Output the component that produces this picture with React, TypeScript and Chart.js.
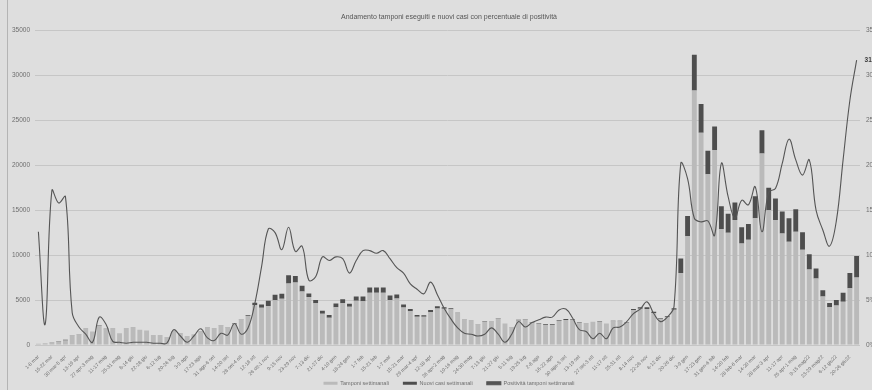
import { useEffect, useRef } from 'react';
import { Chart, registerables } from 'chart.js';
Chart.register(...registerables);

const FONT = '"Liberation Sans", Arial, sans-serif';
const TITLE = 'Andamento tamponi eseguiti e nuovi casi con percentuale di positività';

const weeks = [
  '1-8 mar', '9-15 mar', '15-22 mar', '23-29 mar', '30 mar-5 apr', '6-12 apr', '13-19 apr', '20-26 apr',
  '27 apr-3 mag', '4-10 mag', '11-17 mag', '18-24 mag', '25-31 mag', '1-7 giu', '8-14 giu', '15-21 giu',
  '22-28 giu', '29 giu-5 lug', '6-12 lug', '13-19 lug', '20-26 lug', '27 lug-2 ago', '3-9 ago', '10-16 ago',
  '17-23 ago', '24-30 ago', '31 ago-6 set', '7-13 set', '14-20 set', '21-27 set', '28 set-4 ott', '5-11 ott',
  '12-18 ott', '19-25 ott', '26 ott-1 nov', '2-8 nov', '9-15 nov', '16-22 nov', '23-29 nov', '30 nov-6 dic',
  '7-13 dic', '14-20 dic', '21-27 dic', '28 dic-3 gen',
  '4-10 gen', '11-17 gen', '18-24 gen', '25-31 gen', '1-7 feb', '8-14 feb', '15-21 feb', '22-28 feb',
  '1-7 mar', '8-14 mar', '15-21 mar', '22-28 mar', '29 mar-4 apr', '5-11 apr', '12-18 apr', '19-25 apr',
  '26 apr-2 mag', '3-9 mag', '10-16 mag', '17-23 mag', '24-30 mag', '31 mag-6 giu', '7-13 giu', '14-20 giu',
  '21-27 giu', '28 giu-4 lug', '5-11 lug', '12-18 lug', '19-25 lug', '26 lug-1 ago', '2-8 ago', '9-15 ago',
  '16-22 ago', '23-29 ago', '30 ago-5 set', '6-12 set', '13-19 set', '20-26 set', '27 set-3 ott', '4-10 ott',
  '11-17 ott', '18-24 ott', '25-31 ott', '1-7 nov', '8-14 nov', '15-21 nov', '22-28 nov', '29 nov-5 dic',
  '6-12 dic', '13-19 dic', '20-26 dic', '27 dic-2 gen',
  '3-9 gen', '10-16 gen', '17-23 gen', '24-30 gen', '31 gen-6 feb', '7-13 feb', '14-20 feb', '21-27 feb',
  '28 feb-6 mar', '7-13 mar', '14-20 mar', '21-27 mar', '28 mar-3 apr', '4-10 apr', '11-17 apr', '18-24 apr',
  '25 apr-1 mag', '2-8 mag', '9-15 mag22', '16-22 mag22', '23-29 mag22', '30 mag-5 giu22', '6-12 giu22',
  '13-19 giu22', '20-26 giu22', '27 giu-3 lug22',
];

const tamponi = [
  130, 200, 210, 390, 510, 1060, 1180, 1780, 1500, 2130,
  1760, 1790, 1300, 1900, 1900, 1700, 1600, 1100, 1100, 900,
  1470, 1290, 1000, 1190, 1470, 1980, 1790, 2170, 1980, 2340,
  2860, 3240, 4450, 4150, 4350, 4980, 5150, 6850, 6950, 5950,
  5350, 4650, 3480, 3040, 4200, 4650, 4260, 4930, 4880, 5800,
  5820, 5800, 5020, 5160, 4180, 3760, 3130, 3140, 3650, 4070,
  4040, 3980, 3530, 2860, 2670, 2280, 2570, 2550, 2960, 2390,
  1980, 2730, 2840, 2440, 2330, 2230, 2230, 2690, 2790, 2810,
  2450, 2360, 2580, 2570, 2380, 2650, 2650, 2440, 3860, 4040,
  4010, 3570, 2920, 3100, 3930, 8000, 12100, 28300, 23600, 19000,
  21700, 12900, 12500, 13900, 11300, 11700, 14100, 21300, 15000, 13900,
  12400, 11500, 12600, 10600, 8400, 7400, 5400, 4200, 4400, 4800,
  6300, 7500,
];

const casi = [
  16, 5, 36, 60, 85, 38, 24, 21, 5, 66,
  40, 7, 4, 4, 6, 5, 5, 2, 2, 2,
  25, 13, 3, 12, 27, 16, 9, 28, 22, 56,
  34, 62, 250, 360, 560, 620, 550, 900, 720, 650,
  390, 350, 340, 285, 410, 445, 340, 465, 510, 610,
  590, 610, 480, 445, 335, 255, 195, 180, 255, 230,
  165, 115, 68, 37, 32, 23, 31, 48, 36, 8,
  24, 71, 57, 61, 65, 69, 69, 105, 112, 85,
  42, 35, 18, 33, 17, 50, 53, 63, 135, 160,
  190, 125, 76, 96, 170, 1620, 2250, 4000, 3200, 2600,
  2600, 2550, 2100, 1950, 1800, 1750, 2450, 2600, 2500, 2400,
  2450, 2600, 2500, 1950, 1700, 1100, 700, 460, 600, 1000,
  1700, 2400,
];

const positivita = [
  12.6, 2.3, 17.2, 15.8, 16.5, 3.6, 2.0, 1.2, 0.3, 3.1,
  2.3, 0.4, 0.3, 0.2, 0.3, 0.3, 0.3, 0.2, 0.2, 0.2,
  1.7, 1.0, 0.3, 1.0, 1.8, 0.8, 0.5, 1.3, 1.1, 2.4,
  1.2, 1.9, 4.6, 8.7, 12.9, 12.5, 10.6, 13.1, 10.4, 11.0,
  7.2, 7.6, 9.8, 9.4, 9.8, 9.6, 8.0, 9.4, 10.5, 10.5,
  10.2, 10.5, 9.6, 8.6, 8.0, 6.8, 6.2, 5.7, 7.0, 5.6,
  4.1, 2.9, 1.9, 1.3, 1.2, 1.0, 1.2, 1.9, 1.2, 0.3,
  1.2, 2.6, 2.0, 2.5, 2.8, 3.1, 3.1, 3.9, 4.0, 3.0,
  1.7, 1.5, 0.7, 1.3, 0.7, 1.9, 2.0, 2.6, 3.5, 4.0,
  4.8, 3.5, 2.6, 3.1, 4.3, 20.2, 18.5, 14.1, 13.7, 13.8,
  12.2, 20.2, 16.5, 14.1, 16.1, 15.6, 17.6, 12.6, 17.0, 17.4,
  20.2, 22.9, 20.6, 18.9, 20.6, 15.0, 12.8, 11.0, 13.8, 20.6,
  27.2, 31.7,
];

const leftTicks = [0, 5000, 10000, 15000, 20000, 25000, 30000, 35000];
const rightTicks = [0, 5, 10, 15, 20, 25, 30, 35];

const BG = '#dedede';
const LIGHT = '#bababa';
const DARK = '#4e4e4e';
const LINE = '#555555';
const GRID = '#c6c6c6';
const TEXT = '#6e6e6e';

export default function App() {
  const ref = useRef<HTMLCanvasElement>(null);

  useEffect(() => {
    if (!ref.current) return;
    const lastLabel = {
      id: 'lastLabel',
      afterDatasetsDraw(chart: any) {
        const meta = chart.getDatasetMeta(2);
        const pts = meta.data;
        const pt = pts[pts.length - 1];
        if (!pt) return;
        const v = positivita[positivita.length - 1];
        const ctx = chart.ctx;
        ctx.save();
        ctx.font = 'bold 6.5px ' + FONT;
        ctx.fillStyle = '#3a3a3a';
        ctx.textBaseline = 'middle';
        ctx.textAlign = 'left';
        ctx.fillText(v.toFixed(1).replace('.', ',') + '%', pt.x + 8, pt.y);
        ctx.restore();
      },
    };

    const chart = new Chart(ref.current, {
      type: 'bar',
      data: {
        labels: weeks,
        datasets: [
          {
            label: 'Tamponi settimanali',
            data: tamponi,
            backgroundColor: LIGHT,
            yAxisID: 'y',
            stack: 's',
            order: 1,
            barPercentage: 0.72,
            categoryPercentage: 1,
          },
          {
            label: 'Nuovi casi settimanali',
            data: casi,
            backgroundColor: DARK,
            yAxisID: 'y',
            stack: 's',
            order: 1,
            barPercentage: 0.72,
            categoryPercentage: 1,
          },
          {
            type: 'line',
            label: 'Positività tamponi settimanali',
            data: positivita,
            borderColor: LINE,
            backgroundColor: LINE,
            borderWidth: 1.1,
            pointRadius: 0,
            tension: 0.4,
            yAxisID: 'y1',
            order: 0,
          } as any,
        ],
      },
      options: {
        responsive: false,
        animation: false,
        devicePixelRatio: 1,
        layout: { padding: { left: 8, right: 0, top: 0, bottom: -6 } },
        plugins: {
          title: {
            display: true,
            text: TITLE,
            color: '#555',
            font: { family: FONT, size: 7, weight: 'normal' },
            padding: { top: 13, bottom: 9 },
          },
          legend: {
            position: 'bottom',
            labels: {
              boxWidth: 14,
              boxHeight: 3,
              padding: 14,
              color: TEXT,
              font: { family: FONT, size: 5.5 },
              sort: (a: any, b: any) => a.datasetIndex - b.datasetIndex,
            },
          },
          tooltip: { enabled: false },
        },
        scales: {
          x: {
            stacked: true,
            offset: true,
            grid: { display: false },
            border: { display: false },
            afterFit: (s: any) => {
              s.height = 21.5;
              s._computeLabelArea = () => undefined;
            },
            ticks: {
              autoSkip: false,
              minRotation: 45,
              maxRotation: 45,
              padding: 1,
              color: TEXT,
              font: { family: FONT, size: 5 },
              callback: (_v: any, i: number) => (i % 2 === 0 ? weeks[i] : ''),
            },
          },
          y: {
            stacked: true,
            position: 'left',
            min: 0,
            max: 35000,
            afterBuildTicks: (s: any) => {
              s.ticks = leftTicks.map((v) => ({ value: v }));
            },
            afterFit: (s: any) => {
              s.width = 27;
            },
            grid: { color: GRID, lineWidth: 1, drawTicks: false },
            border: { display: false },
            ticks: {
              padding: 5,
              color: TEXT,
              font: { family: FONT, size: 6.5 },
              callback: (v: any) => String(v),
            },
          },
          y1: {
            position: 'right',
            min: 0,
            max: 35,
            afterBuildTicks: (s: any) => {
              s.ticks = rightTicks.map((v) => ({ value: v }));
            },
            afterFit: (s: any) => {
              s.width = 30;
            },
            grid: { drawOnChartArea: false, drawTicks: false },
            border: { display: false },
            ticks: {
              padding: 6,
              color: TEXT,
              font: { family: FONT, size: 6.5 },
              callback: (v: any) => v + '%',
            },
          },
        },
      } as any,
      plugins: [lastLabel],
    });
    return () => chart.destroy();
  }, []);

  return (
    <div
      style={{
        position: 'fixed',
        left: 0,
        top: 0,
        width: 872,
        height: 390,
        overflow: 'hidden',
        background: BG,
      }}
    >
      <div style={{ position: 'absolute', left: 7, top: 0, width: 1, height: 390, background: '#b4b4b4' }} />
      <canvas ref={ref} width={890} height={390} style={{ position: 'absolute', left: 0, top: 0, width: 890, height: 390 }} />
    </div>
  );
}
